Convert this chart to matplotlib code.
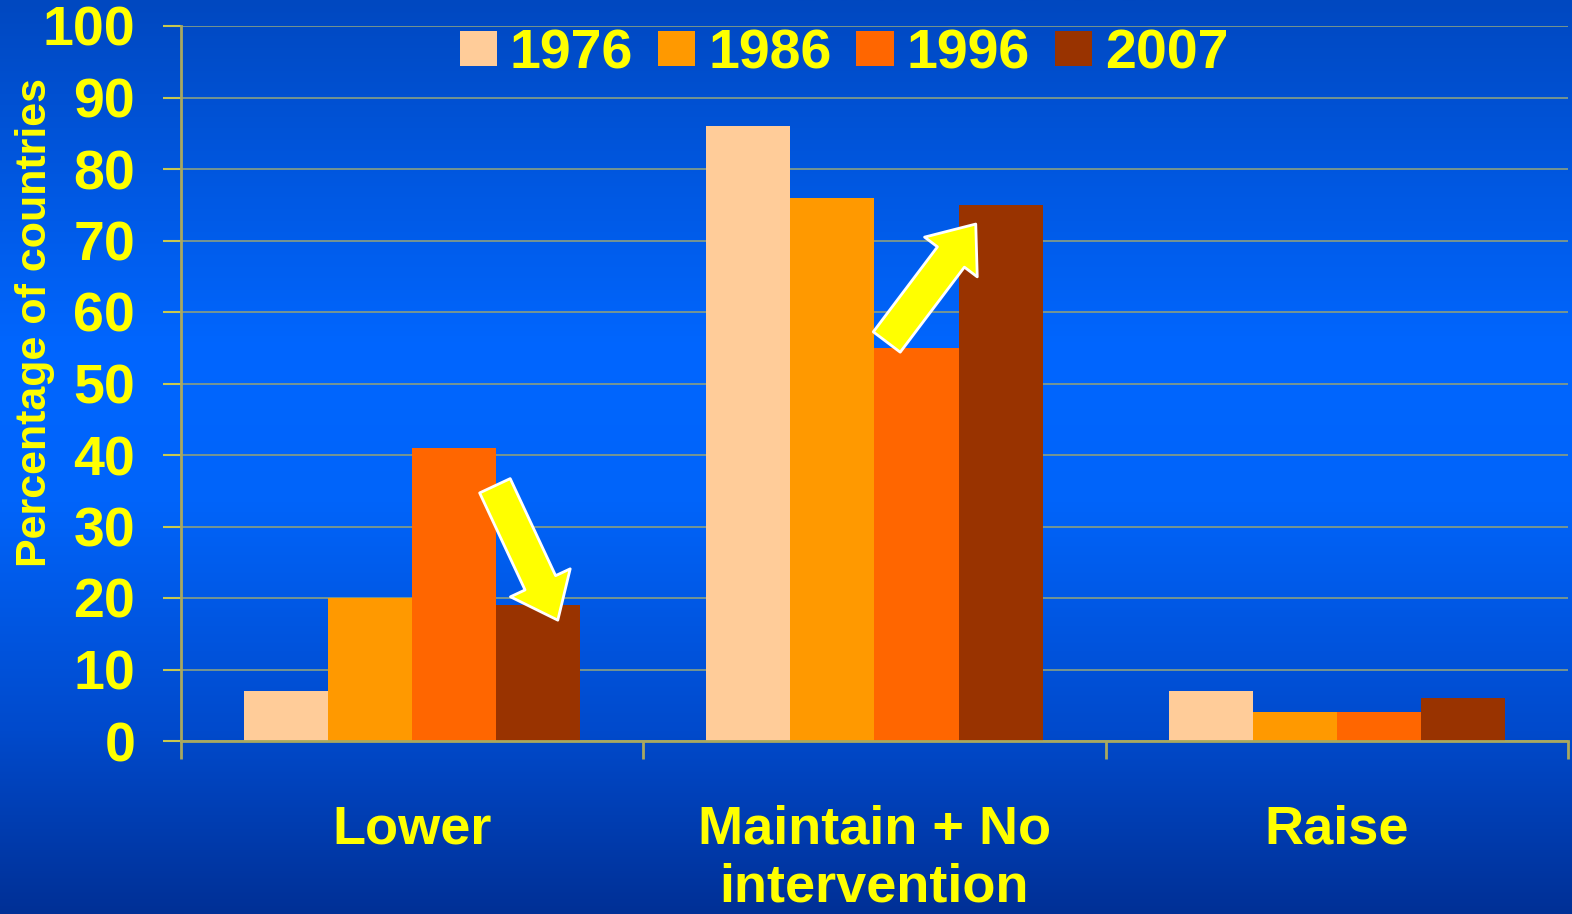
import numpy as np
import matplotlib
matplotlib.use('Agg')
import matplotlib.pyplot as plt
from matplotlib.ticker import MultipleLocator

# data
categories = ['Lower', 'Maintain + No\nintervention', 'Raise']
years = ['1976', '1986', '1996', '2007']
v1976 = [7, 86, 7]
v1986 = [20, 76, 4]
v1996 = [41, 55, 4]
v2007 = [19, 75, 6]
colors = ['#FFCC99', '#FF9900', '#FF6600', '#993300']

yellow = '#FFFF00'
plt.rcParams['font.family'] = ['Liberation Sans', 'DejaVu Sans']
plt.rcParams['font.weight'] = 'bold'

fig = plt.figure(figsize=(15.72, 9.14), dpi=100)

# blue gradient background (dark top, bright middle, darker bottom)
bg = fig.add_axes([0, 0, 1, 1], zorder=0)
stops_y = [0.0, 0.38, 0.55, 0.8, 1.0]
stops_c = np.array([[0, 72, 192], [0, 102, 255], [0, 100, 250], [0, 74, 204], [0, 48, 150]]) / 255
yy = np.linspace(0, 1, 400)
grad = np.stack([np.interp(yy, stops_y, stops_c[:, i]) for i in range(3)], axis=1)
bg.imshow(grad[:, None, :], aspect='auto', extent=[0, 1, 1, 0])
bg.axis('off')

ax = fig.add_axes([181 / 1572, (914 - 741) / 914, (1568 - 181) / 1572, (741 - 26) / 914], zorder=1)
ax.patch.set_visible(False)

x = np.arange(len(categories))
w = 0.182
series = [v1976, v1986, v1996, v2007]
for i, (vals, yr, c) in enumerate(zip(series, years, colors)):
    ax.bar(x + (i - 1.5) * w, vals, w, color=c, label=yr, zorder=2)

ax.set_xlim(-0.5, 2.5)
ax.set_ylim(0, 100)
ax.yaxis.set_major_locator(MultipleLocator(10))
ax.grid(axis='y', color='#7f9a8a', lw=1.3, zorder=1)
ax.set_axisbelow(True)

for s in ['top', 'right']:
    ax.spines[s].set_visible(False)
for s in ['left', 'bottom']:
    ax.spines[s].set_color('#a8a860')
    ax.spines[s].set_linewidth(2)

ax.tick_params(axis='y', colors=yellow, labelsize=40, length=13, width=1.5, pad=20)
ax.tick_params(axis='y', color='#c8c850')
ax.set_xticks(x)
ax.set_xticklabels(categories, fontsize=39, color=yellow, linespacing=1.2)
ax.tick_params(axis='x', which='major', length=0, pad=46)
ax.set_xticks([-0.5, 0.5, 1.5, 2.5], minor=True)
ax.tick_params(axis='x', which='minor', length=13, width=2, color='#a8a860')
for lab in ax.get_yticklabels():
    lab.set_fontweight('bold')

ax.set_ylabel('Percentage of countries', fontsize=31, color=yellow, fontweight='bold')
ax.yaxis.set_label_coords(-0.091, 0.586)

leg = ax.legend(loc='upper center', bbox_to_anchor=(0.478, 1.067), ncol=4, frameon=False,
                prop={'weight': 'bold', 'size': 40},
                handlelength=0.67, handleheight=0.61, handletextpad=0.23, columnspacing=0.45)
for t in leg.get_texts():
    t.set_color(yellow)

# yellow arrows
arrow_style = 'simple,tail_width=0.45,head_width=0.88,head_length=0.55'
ax.annotate('', xy=(0.315, 16.9), xytext=(0.179, 35.7),
            arrowprops=dict(arrowstyle=arrow_style, mutation_scale=54, fc=yellow, ec='white', lw=2,
                            shrinkA=0, shrinkB=0),
            zorder=5)
ax.annotate('', xy=(1.219, 72.3), xytext=(1.0265, 55.8),
            arrowprops=dict(arrowstyle=arrow_style, mutation_scale=54, fc=yellow, ec='white', lw=2,
                            shrinkA=0, shrinkB=0),
            zorder=5)

fig.savefig('out.png', dpi=100)
